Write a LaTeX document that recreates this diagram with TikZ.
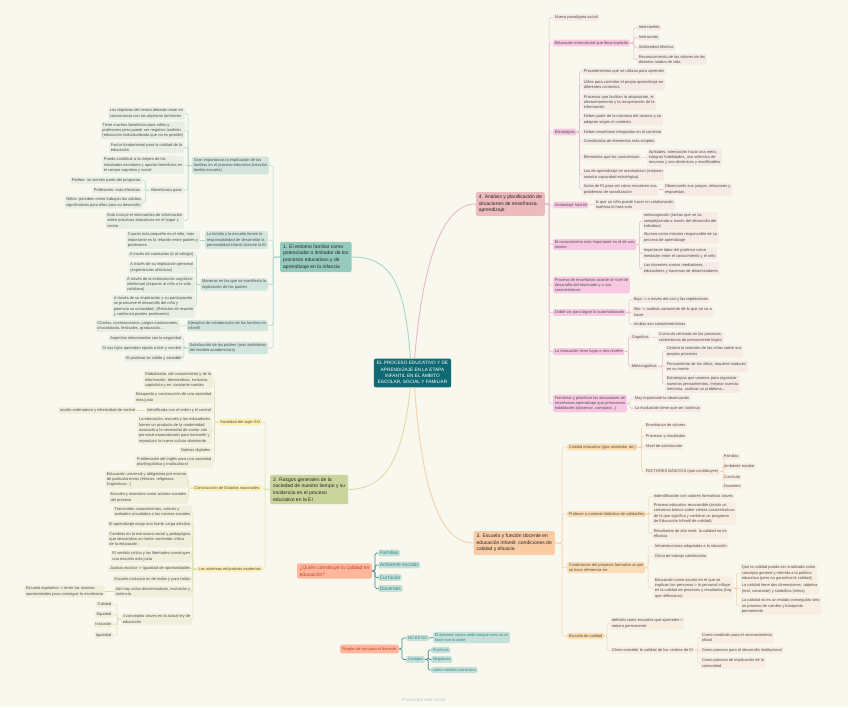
\documentclass[tikz,border=0pt]{standalone}
\usepackage{fontspec}
\setmainfont{Liberation Sans}
\usetikzlibrary{positioning, calc}
\definecolor{Cream}{HTML}{F9F8EE}
\definecolor{Ink}{HTML}{505050}
\definecolor{Deep}{HTML}{0F6A73}
\definecolor{Teal}{HTML}{95CBBF}
\definecolor{TealLine}{HTML}{A9D4CB}
\definecolor{TealSub}{HTML}{D2E5DC}
\definecolor{TealLeaf}{HTML}{E8EEE3}
\definecolor{Olive}{HTML}{CAD59C}
\definecolor{OliveLine}{HTML}{D8DDA9}
\definecolor{Lemon}{HTML}{FCF0B5}
\definecolor{OliveLeaf}{HTML}{F0EFDC}
\definecolor{Rose}{HTML}{EDBABD}
\definecolor{RoseLine}{HTML}{E8B9C1}
\definecolor{Pink}{HTML}{F8C8E2}
\definecolor{RoseLeaf}{HTML}{F5EAE4}
\definecolor{Peach}{HTML}{F9CCA5}
\definecolor{PeachLine}{HTML}{F3D0AA}
\definecolor{Apricot}{HTML}{FCDDB3}
\definecolor{PeachLeaf}{HTML}{F7EDE0}
\definecolor{Salmon}{HTML}{FFB69C}
\definecolor{Brick}{HTML}{B8442C}
\definecolor{Aqua}{HTML}{C6E0D9}
\definecolor{AquaText}{HTML}{2F8A84}
\definecolor{AquaLine}{HTML}{3D8E8A}
\tikzset{
    box/.style={rectangle, rounded corners=1.5pt, inner sep=1.6pt, align=left, text=Ink, font=\fontsize{4}{5.3}\selectfont},
    tsub/.style={box, fill=TealSub}, tleaf/.style={box, fill=TealLeaf},
    osub/.style={box, fill=Lemon}, oleaf/.style={box, fill=OliveLeaf},
    psub/.style={box, fill=Pink}, pleaf/.style={box, fill=RoseLeaf},
    asub/.style={box, fill=Apricot}, aleaf/.style={box, fill=PeachLeaf},
    topic/.style={rectangle, rounded corners=2pt, inner sep=3pt, align=left, text=black!85, font=\fontsize{5}{6.6}\selectfont},
    floatnode/.style={rectangle, rounded corners=2pt, inner sep=2.5pt, align=left, fill=Salmon, text=Brick},
    aquanode/.style={rectangle, rounded corners=1.5pt, inner sep=1.6pt, align=left, fill=Aqua, text=AquaText},
    tline/.style={draw=TealLine, line width=0.5pt, rounded corners=1.5pt},
    oline/.style={draw=OliveLine, line width=0.5pt, rounded corners=1.5pt},
    pline/.style={draw=RoseLine, line width=0.5pt, rounded corners=1.5pt},
    aline/.style={draw=PeachLine, line width=0.5pt, rounded corners=1.5pt},
    qline/.style={draw=AquaLine, line width=0.7pt, rounded corners=1.5pt},
}

\begin{document}
\begin{tikzpicture}[x=1pt, y=-1pt]
\useasboundingbox (0,0) rectangle (848,707);
\fill[Cream] (0,0) rectangle (848,707);

% central topic
\node[rectangle, rounded corners=2pt, fill=Deep, text=white, align=center, inner sep=3pt,
      font=\fontsize{4.7}{6.3}\selectfont] (ctr) at (412.5,373)
      {EL PROCESO EDUCATIVO Y DE\\APRENDIZAJE EN LA ETAPA\\INFANTIL EN EL ÁMBITO\\ESCOLAR, SOCIAL Y FAMILIAR};

% main topics
\node[topic, fill=Teal, anchor=west] (b1) at (280,257) {1. El entorno familiar como\\potenciador o limitador de los\\procesos educativos y de\\aprendizaje en la infancia};
\node[topic, fill=Olive, anchor=west] (b2) at (270,489.5) {2. Rasgos generales de la\\sociedad de nuestro tiempo y su\\incidencia en el proceso\\educativo en la EI};
\node[topic, fill=Peach, anchor=east] (b3) at (555,543) {3. Escuela y función docente en\\educación infantil: condiciones de\\calidad y eficacia};
\node[topic, fill=Rose, anchor=east] (b4) at (545,204) {4. Análisis y planificación de\\situaciones de enseñanza-\\aprendizaje};

\draw[TealLine, line width=0.9pt] (ctr.98) .. controls (405,285) and (392,257) .. (b1.east);
\draw[OliveLine, line width=0.9pt] (ctr.262) .. controls (403,455) and (388,489) .. (b2.east);
\draw[PeachLine, line width=0.9pt] (ctr.278) .. controls (422,490) and (440,543) .. (b3.west);
\draw[RoseLine, line width=0.9pt] (ctr.82) .. controls (422,270) and (440,204) .. (b4.west);

% branch 1
\node[tsub, anchor=east] (gran) at (269,165.5) {Gran importancia la implicación de las\\familias en el proceso educativo (relación\\familia-escuela)};
\node[tleaf, anchor=east] (obj) at (185,113.5) {Los objetivos del centro deberán estar en\\consonancia con los objetivos familiares};
\node[tleaf, anchor=east] (tiene) at (185,130.5) {Tiene muchos beneficios para niños y\\profesores pero puede ser negativo también\\(educación individualizada que no es posible)};
\node[tleaf, anchor=east] (factor) at (184,147.5) {Factor fundamental para la calidad de la\\educación};
\node[tleaf, anchor=east] (puede) at (184,165) {Puede contribuir a la mejora de los\\resultados escolares y aportar beneficios en\\el campo cognitivo y social};
\node[tleaf, anchor=east] (benef) at (184,190) {Beneficiosa para:};
\node[tleaf, anchor=east] (padres) at (142,180.5) {Padres: se sienten parte del programa};
\node[tleaf, anchor=east] (profes) at (142,190) {Profesores: más efectivos};
\node[tleaf, anchor=east] (ninos) at (143,202.5) {Niños: perciben cómo trabajan los adultos\\significativos para ellos para su desarrollo};
\node[tleaf, anchor=east] (esto) at (184,220.5) {Esto incluye el intercambio de información\\sobre prácticas educativas en el hogar y\\centro};
\node[tsub, anchor=east] (famesc) at (268,240) {La familia y la escuela tienen la\\responsabilidad de desarrollar la\\personalidad infantil durante la EI};
\node[tleaf, anchor=east] (cuanto) at (200,240) {Cuanto más pequeño es el niño, más\\importante es la relación entre padres y\\profesores};
\node[tsub, anchor=east] (maneras) at (268,284.5) {Maneras en las que se manifiesta la\\implicación de los padres};
\node[tleaf, anchor=east] (conduc) at (195,254.5) {A través de conductas (ir al colegio)};
\node[tleaf, anchor=east] (implic) at (195,267.5) {A través de su implicación personal\\(experiencias afectivas)};
\node[tleaf, anchor=east] (estim) at (195,284.5) {A través de la estimulación cognitivo-\\intelectual (exponer al niño a la vida\\cotidiana)};
\node[tleaf, anchor=east] (partic) at (195,306.5) {A través de su implicación y su participación\\se promueve el desarrollo del niño y\\potencia su curiosidad. (Relación de respeto\\y confianza padres-profesores)};
\node[tsub, anchor=east] (ejem) at (268,325.5) {Ejemplos de colaboración de las familias en\\infantil};
\node[tleaf, anchor=east] (charlas) at (180,326) {Charlas, cuentacuentos, juegos tradicionales,\\chocolatada, festivales, graduación...};
\node[tsub, anchor=east] (satisf) at (268,348) {Satisfacción de los padres (más partidarios\\del modelo academicista)};
\node[tleaf, anchor=east] (aspec) at (183,338) {Aspectos relacionados con la seguridad};
\node[tleaf, anchor=east] (sihijos) at (183,348) {Si sus hijos aprenden rápido a leer y escribir};
\node[tleaf, anchor=east] (calido) at (183,358) {El profesor es cálido y sensible};

\foreach \c in {gran,famesc,maneras,ejem,satisf} \draw[tline] (b1.west) -- ++(-7,0) |- (\c.east);
\foreach \c in {obj,tiene,factor,puede,benef,esto} \draw[tline] (gran.west) -- ++(-4,0) |- (\c.east);
\foreach \c in {padres,profes,ninos} \draw[tline] (benef.west) -- ++(-4,0) |- (\c.east);
\draw[tline] (famesc.west) -- (cuanto.east);
\foreach \c in {conduc,implic,estim,partic} \draw[tline] (maneras.west) -- ++(-4,0) |- (\c.east);
\draw[tline] (ejem.west) -- (charlas.east);
\foreach \c in {aspec,sihijos,calido} \draw[tline] (satisf.west) -- ++(-4,0) |- (\c.east);

% branch 2
\node[osub, anchor=east] (sxxi) at (262,422) {Sociedad del siglo XXI};
\node[oleaf, anchor=east] (glob) at (213,380) {Globalizada, del conocimiento y de la\\información, democrática, inclusiva,\\capitalista y en constante cambio};
\node[oleaf, anchor=east] (busq) at (213,397.5) {Búsqueda y construcción de una sociedad\\más justa};
\node[oleaf, anchor=east] (ident) at (213,410.5) {Identificada con el orden y el control};
\node[oleaf, anchor=east] (accion) at (137,410.5) {acción ordenadora y efectividad de control};
\node[oleaf, anchor=east] (educmod) at (212,430.5) {La educación, escuela y los educadores\\fueron un producto de la modernidad\\asociado a la necesidad de contar con\\personal especializado para transmitir y\\reproducir la nueva cultura dominante};
\node[oleaf, anchor=east] (nativos) at (212,450) {Nativos digitales};
\node[oleaf, anchor=east] (prolif) at (213,462) {Proliferación del inglés para una sociedad\\plurilingüística y multicultural};
\node[osub, anchor=east] (estados) at (262,488) {Construcción de Estados nacionales:};
\node[oleaf, anchor=east] (univ) at (188,479.5) {Educación universal y obligatoria por encima\\de particularismos (étnicos, religiosos,\\lingüísticos...)};
\node[oleaf, anchor=east] (actores) at (188,497.5) {Escuela y maestros como actores sociales\\del proceso};
\node[osub, anchor=east] (sistemas) at (263,569) {Los sistemas educativos modernos};
\node[oleaf, anchor=east] (transm) at (192,511.5) {Transmiten conocimientos, valores y\\actitudes vinculados a las normas sociales};
\node[oleaf, anchor=east] (afect) at (192,524) {El aprendizaje exige una fuerte carga afectiva};
\node[oleaf, anchor=east] (cambios) at (192,539) {Cambios en la estructura social y pedagógica\\que desarrollan un fuerte contenido crítico\\de la educación};
\node[oleaf, anchor=east] (critico) at (192,556.5) {El sentido crítico y las libertades construyen\\una escuela más justa};
\node[oleaf, anchor=east] (justicia) at (192,568.5) {Justicia escolar -> igualdad de oportunidades};
\node[oleaf, anchor=east] (inclus) at (192,579) {Escuela inclusiva en de todos y para todos};
\node[oleaf, anchor=east] (discr) at (192,591.5) {Aún hay actos discriminativos, exclusión y\\violencia};
\node[oleaf, anchor=east] (equit) at (105,591.5) {Escuela equitativa -> tener las mismas\\oportunidades para conseguir la excelencia};
\node[oleaf, anchor=east] (claves) at (192,619) {4 conceptos claves en la actual ley de\\educación};
\node[oleaf, anchor=east] (calid) at (113,604.5) {Calidad};
\node[oleaf, anchor=east] (equid) at (113,614.5) {Equidad};
\node[oleaf, anchor=east] (inclu) at (113,624.5) {Inclusión};
\node[oleaf, anchor=east] (igual) at (113,635) {Igualdad};

\foreach \c in {sxxi,estados,sistemas} \draw[oline] (b2.west) -- ++(-5,0) |- (\c.east);
\foreach \c in {glob,busq,ident,educmod,nativos,prolif} \draw[oline] (sxxi.west) -- ++(-4,0) |- (\c.east);
\draw[oline] (ident.west) -- (accion.east);
\foreach \c in {univ,actores} \draw[oline] (estados.west) -- ++(-4,0) |- (\c.east);
\foreach \c in {transm,afect,cambios,critico,justicia,inclus,discr,claves} \draw[oline] (sistemas.west) -- ++(-4,0) |- (\c.east);
\draw[oline] (discr.west) -- (equit.east);
\foreach \c in {calid,equid,inclu,igual} \draw[oline] (claves.west) -- ++(-4,0) |- (\c.east);

% branch 4
\node[pleaf, anchor=west] (nuevo) at (553,17.5) {Nuevo paradigma social};
\node[psub, anchor=west] (intercul) at (553,43) {Educación intercultural que lleva implícito};
\node[pleaf, anchor=west] (interc) at (637,27.5) {Intercambio};
\node[pleaf, anchor=west] (interac) at (637,37.5) {Interacción};
\node[pleaf, anchor=west] (solid) at (637,47.5) {Solidaridad efectiva};
\node[pleaf, anchor=west] (recon) at (637,59.5) {Reconocimiento de los valores de los\\distintos modos de vida};
\node[psub, anchor=west] (estrat) at (553,132) {Estrategias};
\node[pleaf, anchor=west] (proced) at (582,71.5) {Procedimientos que se utilizan para aprender};
\node[pleaf, anchor=west] (utiles) at (582,84.5) {Útiles para controlar el propio aprendizaje en\\diferentes contextos};
\node[pleaf, anchor=west] (procesos) at (582,102) {Procesos que facilitan la adquisición, el\\almacenamiento y la recuperación de la\\información};
\node[pleaf, anchor=west] (partir) at (582,119.5) {Deben partir de la iniciativa del alumno y se\\adaptan según el contexto};
\node[pleaf, anchor=west] (ensen) at (582,132) {Deben enseñarse integradas en el contexto};
\node[pleaf, anchor=west] (constit) at (582,141.5) {Constituidas de elementos más simples};
\node[pleaf, anchor=west] (elem) at (582,157) {Elementos que las caracterizan};
\node[pleaf, anchor=west] (aptit) at (647,157.5) {Aptitudes, orientación hacia una meta,\\integran habilidades, uso selectivo de\\recursos y son dinámicas y modificables};
\node[pleaf, anchor=west] (automat) at (582,174.5) {Las de aprendizaje se automatizan (mejoran\\nuestra capacidad estratégica)};
\node[pleaf, anchor=west] (aulas) at (582,189.5) {Aulas de EI para ver cómo resuelven sus\\problemas de socialización};
\node[pleaf, anchor=west] (observ) at (663,189.5) {Observando sus juegos, relaciones y\\respuestas};
\node[psub, anchor=west] (andam) at (553,205) {Andamiaje tutorial};
\node[pleaf, anchor=west] (colab) at (594,204.5) {lo que un niño puede hacer en colaboración\\mañana lo hará solo};
\node[psub, anchor=west] (conoc) at (553,244.5) {El conocimiento más importante es el de uno\\mismo};
\node[pleaf, anchor=west] (metac) at (642,221) {metacognición (tareas que se va\\complejizando a través del desarrollo del\\individuo)};
\node[pleaf, anchor=west] (alumno) at (642,237.5) {Alumno como máximo responsable de su\\proceso de aprendizaje};
\node[pleaf, anchor=west] (labor) at (642,253.5) {Importante labor del profesor como\\mediador entre el conocimiento y el niño};
\node[pleaf, anchor=west] (docentes) at (642,268.5) {Los docentes somos mediadores,\\educadores y hacemos de dinamizadores};
\node[psub, anchor=west] (proceso) at (553,285) {Proceso de enseñanza acorde al nivel de\\desarrollo del alumnado y a sus\\características};
\node[psub, anchor=west] (doble) at (553,312.5) {Doble vía para lograr la automatización};
\node[pleaf, anchor=west] (bajo) at (632,299.5) {Bajo -> a través del uso y las repeticiones};
\node[pleaf, anchor=west] (alto) at (632,312) {Alto -> análisis consciente de lo que se va a\\hacer};
\node[pleaf, anchor=west] (ambas) at (632,324.5) {Ambas son complementarias};
\node[psub, anchor=west] (niveles) at (553,351.5) {La educación tiene lugar a dos niveles};
\node[pleaf, anchor=west] (cogn) at (630,337) {Cognitiva};
\node[pleaf, anchor=west] (curric) at (657,337.5) {Currículo centrado en los procesos\\sistemáticos de pensamiento lógico};
\node[pleaf, anchor=west] (metacog) at (630,366.5) {Metacognitiva};
\node[pleaf, anchor=west] (centrar) at (665,351.5) {Centrar la atención de los niños sobre sus\\propios procesos};
\node[pleaf, anchor=west] (pensam) at (665,366.5) {Pensamiento de los niños, requiere madurez\\en su mente};
\node[pleaf, anchor=west] (estrus) at (665,384) {Estrategias que usamos para organizar\\nuestros pensamientos, mejorar nuestra\\memoria, analizar un problema...};
\node[psub, anchor=west] (fomentar) at (553,403.5) {Fomentar y planificar las situaciones de\\enseñanza-aprendizaje que promueven\\habilidades (observar, comparar...)};
\node[pleaf, anchor=west] (obs) at (633,398.5) {Muy importante la observación};
\node[pleaf, anchor=west] (evalu) at (633,408.5) {La evaluación tiene que ser continua};

\foreach \c in {nuevo,intercul,estrat,andam,conoc,proceso,doble,niveles,fomentar} \draw[pline] (b4.east) -- ++(4,0) |- (\c.west);
\foreach \c in {interc,interac,solid,recon} \draw[pline] (intercul.east) -- ++(4,0) |- (\c.west);
\foreach \c in {proced,utiles,procesos,partir,ensen,constit,elem,automat,aulas} \draw[pline] (estrat.east) -- ++(3,0) |- (\c.west);
\draw[pline] (elem.east) -- (aptit.west);
\draw[pline] (aulas.east) -- (observ.west);
\draw[pline] (andam.east) -- (colab.west);
\foreach \c in {metac,alumno,labor,docentes} \draw[pline] (conoc.east) -- ++(3,0) |- (\c.west);
\foreach \c in {bajo,alto,ambas} \draw[pline] (doble.east) -- ++(3,0) |- (\c.west);
\foreach \c in {cogn,metacog} \draw[pline] (niveles.east) -- ++(4,0) |- (\c.west);
\draw[pline] (cogn.east) -- (curric.west);
\foreach \c in {centrar,pensam,estrus} \draw[pline] (metacog.east) -- ++(4,0) |- (\c.west);
\foreach \c in {obs,evalu} \draw[pline] (fomentar.east) -- ++(3,0) |- (\c.west);

% branch 3
\node[asub, anchor=west] (caledu) at (567,447) {Calidad educativa (gira alrededor de:)};
\node[aleaf, anchor=west] (valores) at (644,425.5) {Enseñanza de valores};
\node[aleaf, anchor=west] (result) at (644,436) {Procesos y resultados};
\node[aleaf, anchor=west] (nivsat) at (644,446.5) {Nivel de satisfacción};
\node[aleaf, anchor=west] (factores) at (644,471.5) {FACTORES BÁSICOS (que contribuyen)};
\node[aleaf, anchor=west] (ffam) at (722,456.5) {Familias};
\node[aleaf, anchor=west] (famb) at (722,466.5) {Ambiente escolar};
\node[aleaf, anchor=west] (fcur) at (722,477.5) {Currículo};
\node[aleaf, anchor=west] (fdoc) at (722,486.5) {Docentes};
\node[asub, anchor=west] (profmat) at (567,514) {Profesor o material didáctico de calidad/es};
\node[aleaf, anchor=west] (identif) at (652,496.5) {Indentificación con valores formativos claves};
\node[aleaf, anchor=west] (proceduc) at (652,513.5) {Proceso educativo reconocible (existir un\\consenso básico sobre ciertas características\\de lo que significa y contiene un programa\\de Educación Infantil de calidad)};
\node[aleaf, anchor=west] (altonivel) at (652,533.5) {Resultados de alto nivel: la calidad no es\\eficacia};
\node[asub, anchor=west] (condic) at (567,567.5) {Condiciones del proyecto formativo al que\\se hace referencia en:};
\node[aleaf, anchor=west] (infra) at (653,546) {Infraestructuras adaptadas a la situación};
\node[aleaf, anchor=west] (clima) at (653,556) {Clima de trabajo satisfactorio};
\node[aleaf, anchor=west] (asunto) at (653,588) {Educación como asunto en el que se\\implican las personas-> lo personal influye\\en la calidad de procesos y resultados (hay\\que reflexionar)};
\node[aleaf, anchor=west] (qcal) at (740,573) {Que la calidad pueda ser analizada como\\concepto general y referida a la política\\educativa (pero no garantiza la calidad)};
\node[aleaf, anchor=west] (dimen) at (740,588.5) {La calidad tiene dos dimensiones: objetiva\\(real, constante) y simbólica (mitos)};
\node[aleaf, anchor=west] (noestado) at (740,606) {La calidad no es un estado conseguido sino\\un proceso de cambio y búsqueda\\permanente};
\node[asub, anchor=west] (escal) at (567,636) {Escuela de calidad};
\node[aleaf, anchor=west] (definido) at (610,623.5) {definido como escuelas que aprenden->\\mejora permanente};
\node[aleaf, anchor=west] (concebir) at (610,650.5) {Cómo concebir la calidad de los centros de EI};
\node[aleaf, anchor=west] (oficial) at (700,637.5) {Como condición para el reconocimiento\\oficial};
\node[aleaf, anchor=west] (desarr) at (700,650.5) {Como proceso para el desarrollo institucional};
\node[aleaf, anchor=west] (comun) at (700,663) {Como proceso de implicación de la\\comunidad};

\foreach \c in {caledu,profmat,condic,escal} \draw[aline] (b3.east) -- ++(7,0) |- (\c.west);
\foreach \c in {valores,result,nivsat,factores} \draw[aline] (caledu.east) -- ++(4,0) |- (\c.west);
\foreach \c in {ffam,famb,fcur,fdoc} \draw[aline] (factores.east) -- ++(4,0) |- (\c.west);
\foreach \c in {identif,proceduc,altonivel} \draw[aline] (profmat.east) -- ++(3,0) |- (\c.west);
\foreach \c in {infra,clima,asunto} \draw[aline] (condic.east) -- ++(3,0) |- (\c.west);
\foreach \c in {qcal,dimen,noestado} \draw[aline] (asunto.east) -- ++(3,0) |- (\c.west);
\foreach \c in {definido,concebir} \draw[aline] (escal.east) -- ++(3,0) |- (\c.west);
\foreach \c in {oficial,desarr,comun} \draw[aline] (concebir.east) -- ++(3,0) |- (\c.west);

% floating topics
\node[floatnode, anchor=east, font=\fontsize{5}{6.6}\selectfont] (quien) at (372,571) {¿Quién constituye la calidad en\\educación?};
\node[aquanode, anchor=west, font=\fontsize{5}{6.6}\selectfont] (qfam) at (378,553) {Familias};
\node[aquanode, anchor=west, font=\fontsize{5}{6.6}\selectfont] (qamb) at (378,565) {Ambiente escolar};
\node[aquanode, anchor=west, font=\fontsize{5}{6.6}\selectfont] (qcur) at (378,577.5) {Currículo};
\node[aquanode, anchor=west, font=\fontsize{5}{6.6}\selectfont] (qdoc) at (378,588.5) {Docentes};
\foreach \c in {qfam,qamb,qcur,qdoc} \draw[qline] (quien.east) -- ++(3,0) |- (\c.west);

\node[floatnode, anchor=east, font=\fontsize{4}{5.3}\selectfont] (reglas) at (399,649) {Reglas de oro para el docente};
\node[aquanode, anchor=west, font=\fontsize{4}{5.3}\selectfont] (noesno) at (406,638) {NO ES NO};
\node[aquanode, anchor=west, font=\fontsize{4}{5.3}\selectfont] (cede) at (433,637.5) {El docente nunca cede porque sino no se\\hace con la clase};
\node[aquanode, anchor=west, font=\fontsize{4}{5.3}\selectfont] (castigos) at (406,659.5) {Castigos};
\node[aquanode, anchor=west, font=\fontsize{4}{5.3}\selectfont] (posit) at (431,650) {Positivos};
\node[aquanode, anchor=west, font=\fontsize{4}{5.3}\selectfont] (negat) at (431,659.5) {Negativos};
\node[aquanode, anchor=west, font=\fontsize{4}{5.3}\selectfont] (correct) at (431,670) {como medida correctora};
\foreach \c in {noesno,castigos} \draw[qline] (reglas.east) -- ++(3,0) |- (\c.west);
\draw[qline] (noesno.east) -- (cede.west);
\foreach \c in {posit,negat,correct} \draw[qline] (castigos.east) -- ++(3,0) |- (\c.west);

\node[text=black!25, font=\fontsize{4.5}{5.5}\selectfont] (credit) at (424,700) {Presented with xmind};
\end{tikzpicture}
\end{document}
